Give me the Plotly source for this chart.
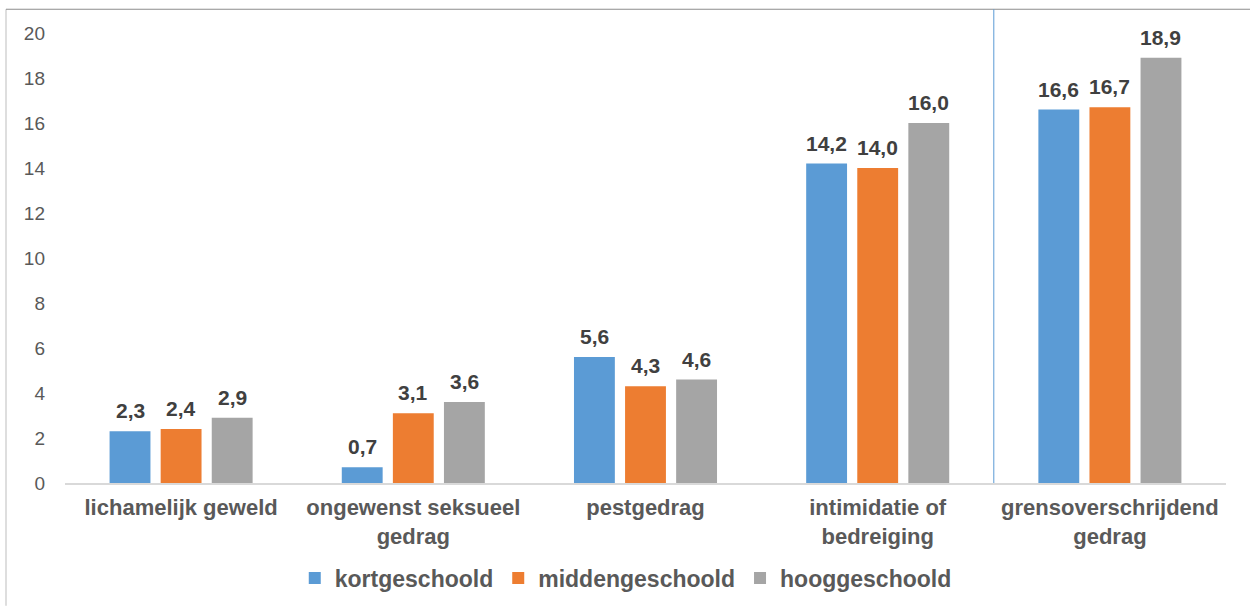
import plotly.graph_objects as go

categories = ["lichamelijk geweld", "ongewenst seksueel<br>gedrag", "pestgedrag",
              "intimidatie of<br>bedreiging", "grensoverschrijdend<br>gedrag"]
series_names = ["kortgeschoold", "middengeschoold", "hooggeschoold"]
kort = [2.3, 0.7, 5.6, 14.2, 16.6]
midden = [2.4, 3.1, 4.3, 14.0, 16.7]
hoog = [2.9, 3.6, 4.6, 16.0, 18.9]
colors = ["#5B9BD5", "#ED7D31", "#A5A5A5"]
y_ticks = [0, 2, 4, 6, 8, 10, 12, 14, 16, 18, 20]

FONT = "Liberation Sans, Arial, sans-serif"
BARGAP = 0.34
SLOT = (1 - BARGAP) / 3

fig = go.Figure()
annotations = []
for k, (name, vals, col) in enumerate(zip(series_names, [kort, midden, hoog], colors)):
    fig.add_trace(go.Bar(
        x=list(range(len(categories))), y=vals, name=name,
        marker=dict(color=col, line=dict(width=0)),
        hoverinfo="skip",
    ))
    for i, v in enumerate(vals):
        annotations.append(dict(
            x=i + (k - 1) * SLOT, y=v, xref="x", yref="y",
            text="<b>" + f"{v:.1f}".replace(".", ",") + "</b>",
            showarrow=False, yanchor="bottom", yshift=7,
            font=dict(family=FONT, size=21, color="#404040"),
        ))

W, H = 1250, 612
ml, mr, mt, mb = 65, 24, 33, 124
pw, ph = W - ml - mr, H - mt - mb

def px_x(px):
    return (px - ml) / pw

def px_y(py):
    return (H - mb - py) / ph

fig.update_layout(
    width=W, height=H,
    margin=dict(l=ml, r=mr, t=mt, b=mb),
    paper_bgcolor="white", plot_bgcolor="white",
    barmode="group", bargap=BARGAP, bargroupgap=0.2,
    separators=", ",
    font=dict(family=FONT, color="#595959"),
    xaxis=dict(
        tickmode="array", tickvals=list(range(len(categories))),
        ticktext=["<b>" + c.replace("<br>", "</b><br><b>") + "</b>" for c in categories],
        range=[-0.5, 4.5], showgrid=False, zeroline=False,
        showline=True, linecolor="#D9D9D9", linewidth=1.5,
        ticks="", ticklabelstandoff=4,
        tickfont=dict(family=FONT, size=22, color="#595959"),
    ),
    yaxis=dict(
        range=[0, 20], tickvals=y_ticks, showgrid=False, zeroline=False,
        showline=False, ticks="", ticklabelstandoff=19,
        tickfont=dict(family=FONT, size=19, color="#595959"),
    ),
    legend=dict(
        orientation="h", x=0.483, xanchor="center", y=px_y(584), yanchor="middle",
        font=dict(family=FONT, size=23, color="#595959", weight="bold"),
        itemwidth=30, tracegroupgap=0,
    ),
    showlegend=True,
    annotations=annotations,
    shapes=[
        dict(type="line", xref="paper", yref="paper",
             x0=px_x(6), x1=px_x(6), y0=px_y(9), y1=px_y(612),
             line=dict(color="#C8C8C8", width=1.2)),
        dict(type="line", xref="paper", yref="paper",
             x0=px_x(6), x1=px_x(1250), y0=px_y(9), y1=px_y(9),
             line=dict(color="#8C8C8C", width=1.2)),
        dict(type="line", xref="x", yref="paper",
             x0=3.5, x1=3.5, y0=0, y1=px_y(9),
             line=dict(color="#5B9BD5", width=1)),
    ],
)

fig.write_html("out.html", config={"displayModeBar": False},
               post_script="document.body.style.margin='0';")
